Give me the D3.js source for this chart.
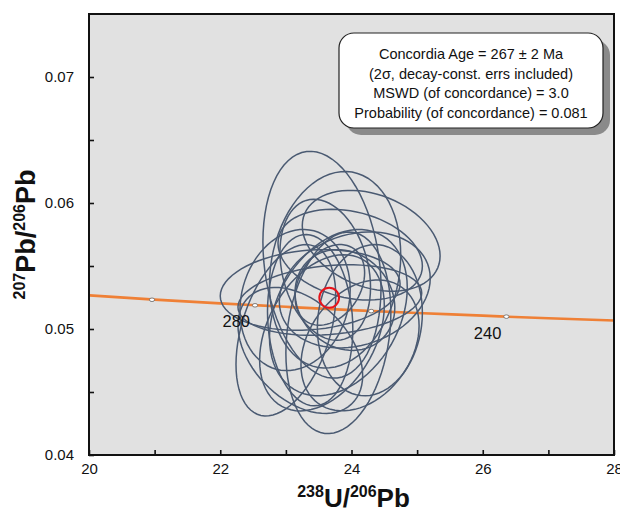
<!DOCTYPE html>
<html>
<head>
<meta charset="utf-8">
<script src="https://cdn.jsdelivr.net/npm/d3@7"></script>
<style>
  body { margin: 0; background: #fff; }
  svg { display: block; font-family: "Liberation Sans", Arial, sans-serif; }
</style>
</head>
<body>
<div class="chart"></div>
<script>
// analysis ellipses: centre (238U/206Pb, 207Pb/206Pb), 2-sigma half widths, error correlation
var u238 =   [23.55, 23.75, 24.30, 23.37, 23.98, 23.67, 23.80, 23.22, 24.13, 23.55, 23.90, 23.67, 23.37, 24.05, 23.14, 23.80, 24.28, 23.60, 23.00];
var pb207 =  [0.0551, 0.0547, 0.0570, 0.0531, 0.0559, 0.0523, 0.0497, 0.0483, 0.0487, 0.0497, 0.0523, 0.0535, 0.0507, 0.0531, 0.0523, 0.0513, 0.0507, 0.0547, 0.0499];
var errU =   [0.90, 1.00, 1.05, 1.37, 1.10, 1.40, 0.80, 0.95, 0.90, 0.95, 0.76, 0.53, 0.65, 1.15, 0.84, 1.05, 0.80, 0.69, 0.76];
var errPb =  [0.0090, 0.0078, 0.0040, 0.0032, 0.0036, 0.0028, 0.0080, 0.0050, 0.0052, 0.0062, 0.0040, 0.0032, 0.0068, 0.0046, 0.0056, 0.0066, 0.0060, 0.0056, 0.0068];
var rho =    [-0.20, 0.15, -0.30, 0.15, -0.25, 0.20, 0.20, -0.40, 0.30, 0.35, -0.15, 0.30, -0.10, 0.20, 0.15, 0.30, 0.10, -0.25, 0.40];

// concordia age ellipse
var concAge = {u: 23.66, pb: 0.05248, eu: 0.15, epb: 0.0008};

// concordia curve
var curveU =  [20, 21, 22, 23, 24, 25, 26, 27, 28];
var curvePb = [0.05267, 0.05233, 0.05203, 0.05176, 0.05150, 0.05127, 0.05106, 0.05085, 0.05068];

// age markers on the concordia (Ma)
var markAge = [300, 280, 260, 240];
var markU =   [20.96, 22.53, 24.30, 26.36];
var markPb =  [0.05232, 0.05188, 0.05142, 0.05098];
var markLabel = ["", "280", "", "240"];

var xTicks = [20, 21, 22, 23, 24, 25, 26, 27, 28];
var yTicks = [0.04, 0.045, 0.05, 0.055, 0.06, 0.065, 0.07];

var boxLines = [
  "Concordia Age = 267 \u00b1 2 Ma",
  "(2\u03c3, decay-const. errs included)",
  "MSWD (of concordance) = 3.0",
  "Probability (of concordance) = 0.081"
];

var W = 620, H = 514;
var plot = {left: 89, right: 614, top: 14, bottom: 455};

var svg = d3.select("div.chart").append("svg")
  .attr("width", W).attr("height", H);

var x = d3.scaleLinear().domain([20, 28]).range([plot.left, plot.right]);
var y = d3.scaleLinear().domain([0.04, 0.075]).range([plot.bottom, plot.top]);

svg.append("rect")
  .attr("x", plot.left).attr("y", plot.top)
  .attr("width", plot.right - plot.left).attr("height", plot.bottom - plot.top)
  .attr("fill", "#e1e1e1");

svg.append("clipPath").attr("id", "clip")
  .append("rect")
  .attr("x", plot.left).attr("y", plot.top)
  .attr("width", plot.right - plot.left).attr("height", plot.bottom - plot.top);

var g = svg.append("g").attr("clip-path", "url(#clip)");

// concordia curve
var line = d3.line()
  .x(function(d, i){ return x(curveU[i]); })
  .y(function(d, i){ return y(curvePb[i]); })
  .curve(d3.curveNatural);

g.append("path")
  .attr("d", line(curveU))
  .attr("fill", "none")
  .attr("stroke", "#ef8036")
  .attr("stroke-width", 2.6);

// error ellipses
function ellipsePts(cu, cp, eu, ep, r){
  var pts = [];
  for (var k = 0; k < 72; k++){
    var t = k / 72 * 2 * Math.PI;
    pts.push([cu + eu * Math.cos(t), cp + ep * (r * Math.cos(t) + Math.sqrt(1 - r * r) * Math.sin(t))]);
  }
  return pts;
}
var eLine = d3.line()
  .x(function(d){ return x(d[0]); })
  .y(function(d){ return y(d[1]); })
  .curve(d3.curveLinearClosed);

g.append("g").selectAll("path")
  .data(u238)
  .enter()
  .append("path")
    .attr("d", function(d, i){ return eLine(ellipsePts(u238[i], pb207[i], errU[i], errPb[i], rho[i])); })
    .attr("fill", "none")
    .attr("stroke", "#4a5a72")
    .attr("stroke-width", 1.5);

// age markers
var marks = g.append("g").selectAll("g")
  .data(markAge)
  .enter()
  .append("g");
marks.append("ellipse")
  .attr("cx", function(d, i){ return x(markU[i]); })
  .attr("cy", function(d, i){ return y(markPb[i]); })
  .attr("rx", 2.6).attr("ry", 1.8)
  .attr("fill", "#fff")
  .attr("stroke", "#666")
  .attr("stroke-width", 0.8);
marks.append("text")
  .attr("x", function(d, i){ return x(markU[i]) - 5; })
  .attr("y", function(d, i){ return y(markPb[i]) + 22; })
  .attr("text-anchor", "end")
  .attr("font-size", 16.5)
  .attr("fill", "#111")
  .text(function(d, i){ return markLabel[i]; });

// concordia age ellipse
g.append("ellipse")
  .attr("cx", x(concAge.u)).attr("cy", y(concAge.pb))
  .attr("rx", x(concAge.u + concAge.eu) - x(concAge.u))
  .attr("ry", y(concAge.pb) - y(concAge.pb + concAge.epb))
  .attr("fill", "none")
  .attr("stroke", "#e8141b")
  .attr("stroke-width", 2);

// axes
var xAxis = d3.axisBottom(x)
  .tickValues(xTicks)
  .tickSize(-5)
  .tickPadding(8)
  .tickFormat(function(d){ return d % 2 === 0 ? d : ""; });
var yAxis = d3.axisLeft(y)
  .tickValues(yTicks)
  .tickSize(-5)
  .tickPadding(15)
  .tickFormat(function(d){ return Math.round(d * 1000) % 10 === 0 ? d3.format(".2f")(d) : ""; });

var gx = svg.append("g").attr("transform", "translate(0," + plot.bottom + ")").call(xAxis);
var gy = svg.append("g").attr("transform", "translate(" + plot.left + ",0)").call(yAxis);
[gx, gy].forEach(function(a){
  a.select(".domain").remove();
  a.selectAll(".tick line").attr("stroke", "#111").attr("stroke-width", 1.6);
  a.selectAll(".tick text").attr("font-size", 15).attr("fill", "#111")
    .attr("font-family", "'Liberation Sans', Arial, sans-serif");
});

svg.append("rect")
  .attr("x", plot.left).attr("y", plot.top)
  .attr("width", plot.right - plot.left).attr("height", plot.bottom - plot.top)
  .attr("fill", "none")
  .attr("stroke", "#111")
  .attr("stroke-width", 2);

// info box
var box = {x: 339, y: 33, w: 264, h: 95};
svg.append("rect")
  .attr("x", box.x + 7).attr("y", box.y + 7)
  .attr("width", box.w).attr("height", box.h)
  .attr("rx", 15)
  .attr("fill", "#8a8a8a");
svg.append("rect")
  .attr("x", box.x).attr("y", box.y)
  .attr("width", box.w).attr("height", box.h)
  .attr("rx", 15)
  .attr("fill", "#fff")
  .attr("stroke", "#222")
  .attr("stroke-width", 1.2);
svg.append("g").selectAll("text")
  .data(boxLines)
  .enter()
  .append("text")
    .attr("x", box.x + box.w / 2)
    .attr("y", function(d, i){ return box.y + 26 + i * 19.7; })
    .attr("text-anchor", "middle")
    .attr("font-size", 14.5)
    .attr("fill", "#111")
    .text(function(d){ return d; });

// axis titles
var xt = svg.append("text")
  .attr("x", (plot.left + plot.right) / 2 + 2)
  .attr("y", 507)
  .attr("text-anchor", "middle")
  .attr("font-weight", "bold")
  .attr("font-size", 26)
  .attr("fill", "#111");
xt.append("tspan").attr("font-size", 16).attr("dy", -10).text("238");
xt.append("tspan").attr("dy", 10).text("U/");
xt.append("tspan").attr("font-size", 16).attr("dy", -10).text("206");
xt.append("tspan").attr("dy", 10).text("Pb");

var yt = svg.append("text")
  .attr("transform", "translate(35," + (plot.top + plot.bottom) / 2 + ") rotate(-90)")
  .attr("text-anchor", "middle")
  .attr("font-weight", "bold")
  .attr("font-size", 27)
  .attr("fill", "#111");
yt.append("tspan").attr("font-size", 16).attr("dy", -10).text("207");
yt.append("tspan").attr("dy", 10).text("Pb/");
yt.append("tspan").attr("font-size", 16).attr("dy", -10).text("206");
yt.append("tspan").attr("dy", 10).text("Pb");
</script>
</body>
</html>
